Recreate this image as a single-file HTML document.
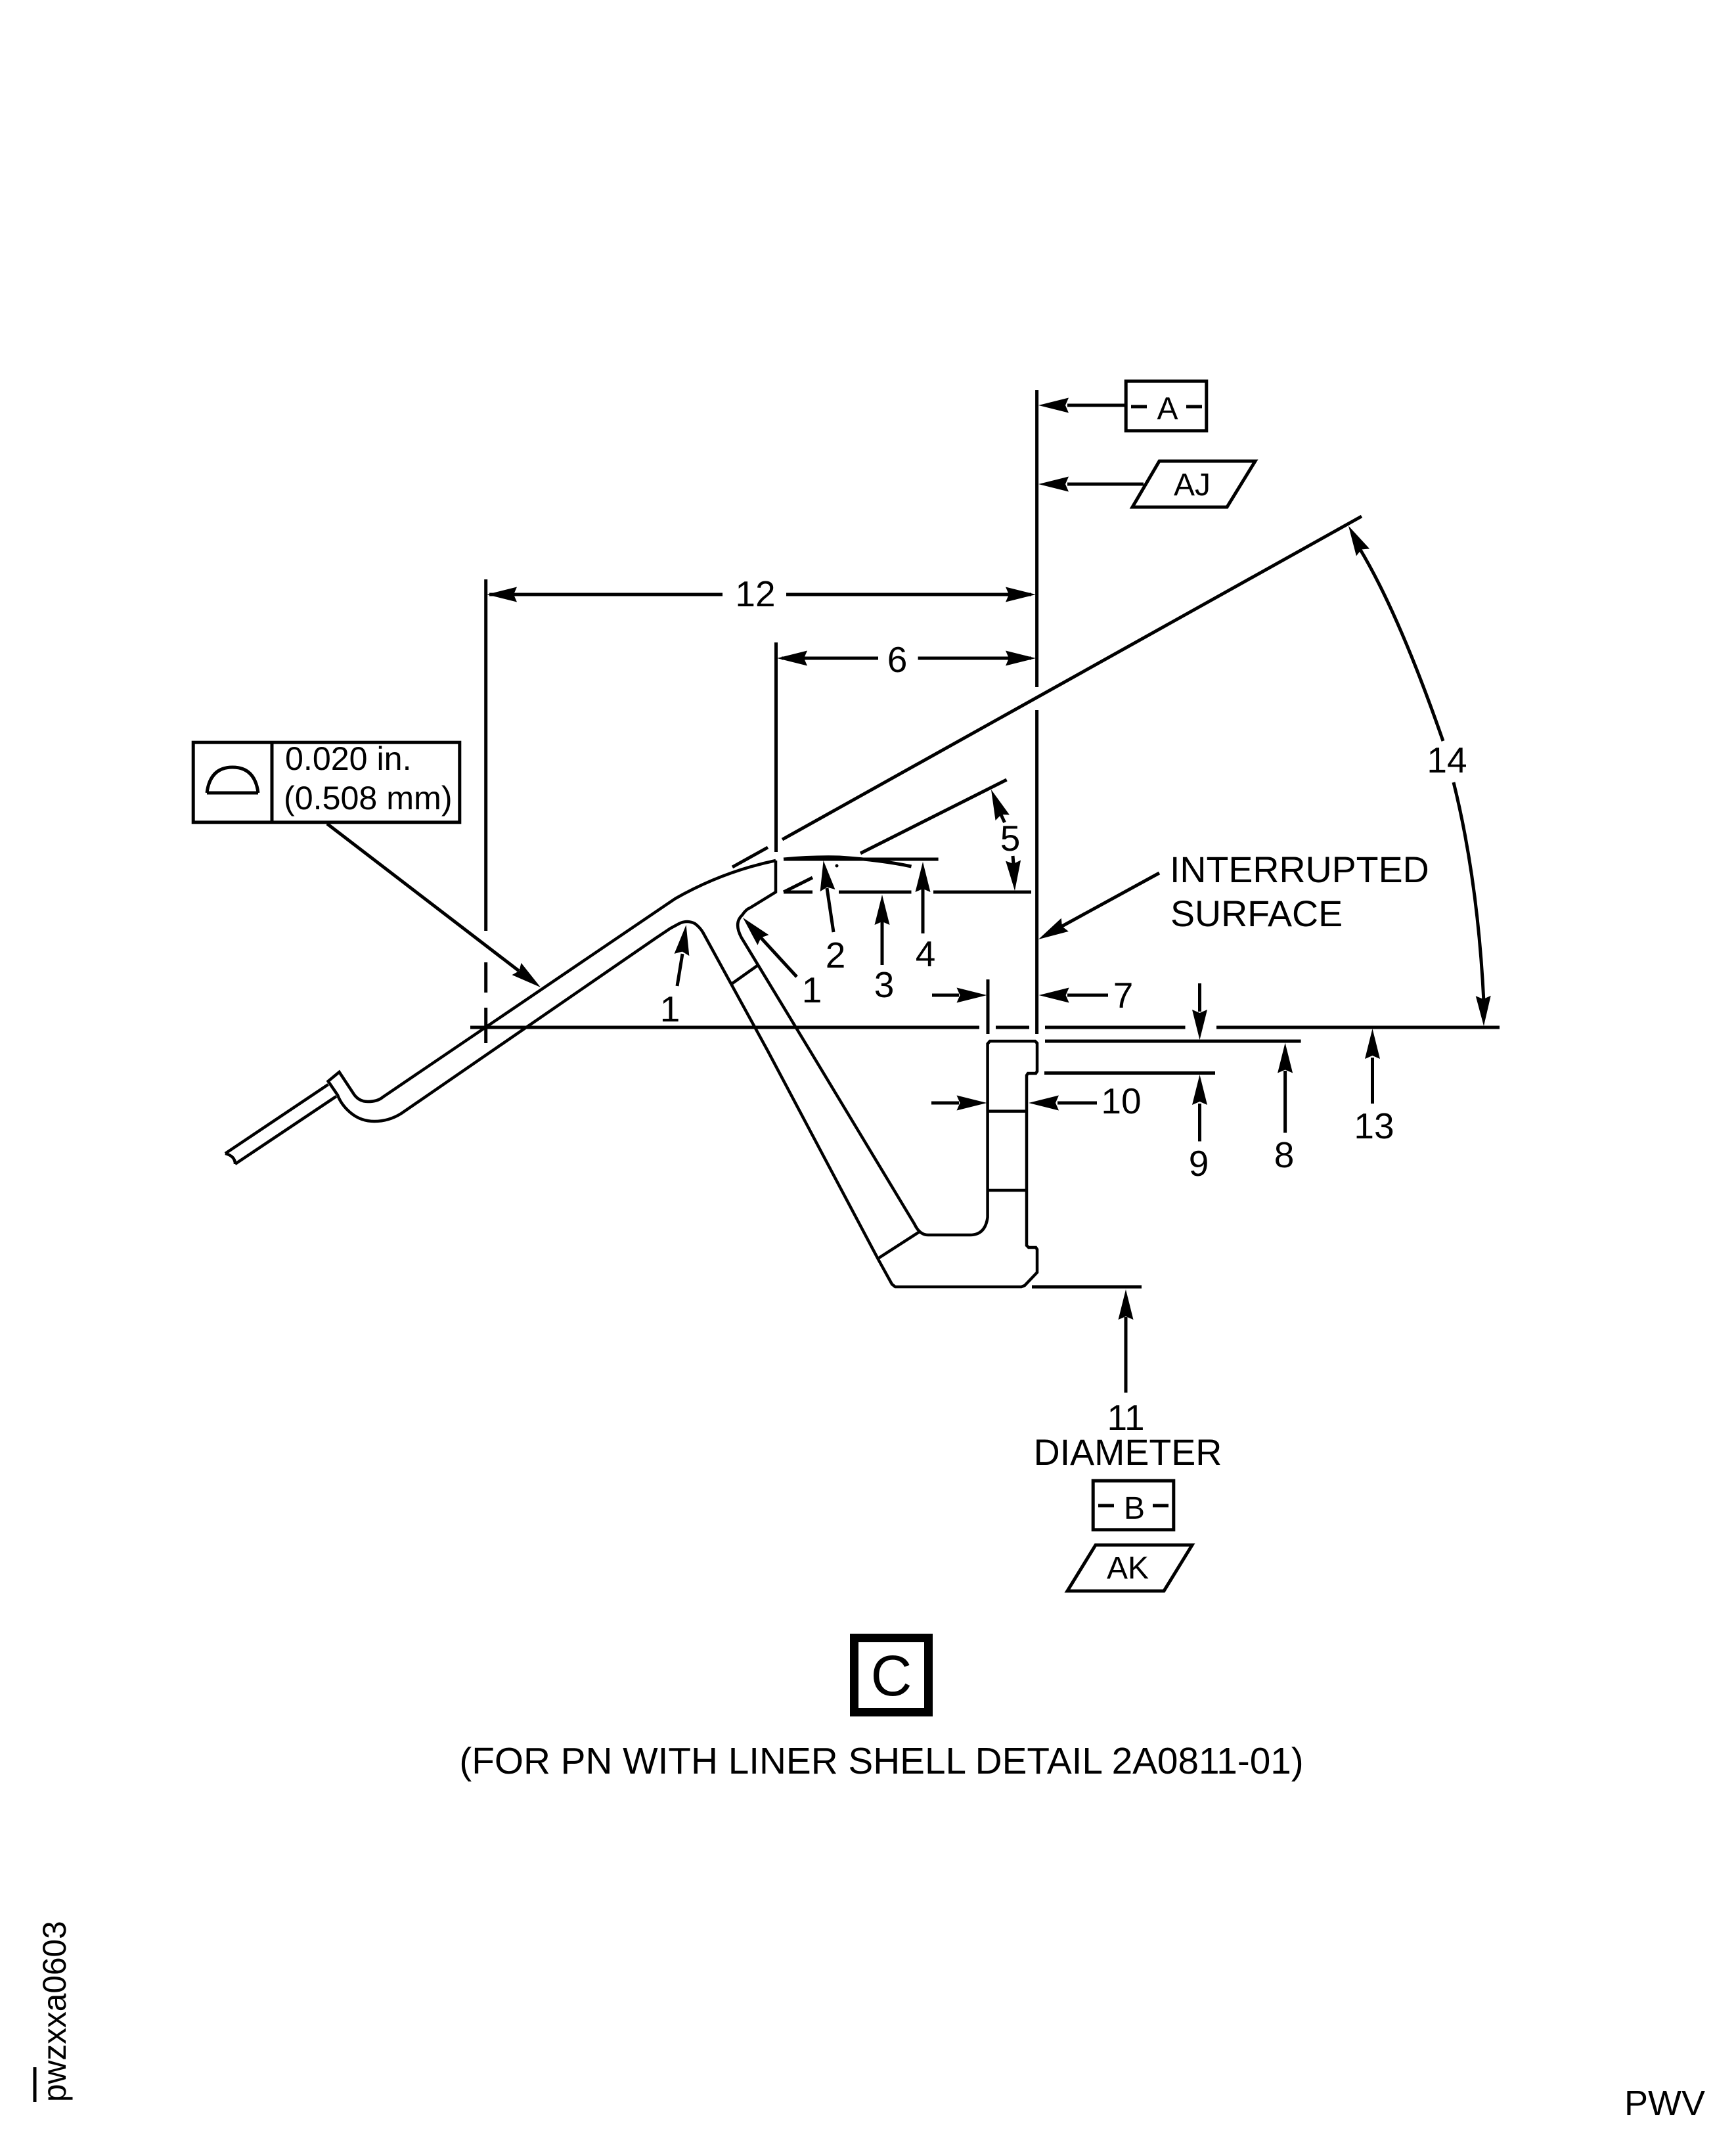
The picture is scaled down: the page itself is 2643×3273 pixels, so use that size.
<!DOCTYPE html>
<html><head><meta charset="utf-8"><style>html,body{margin:0;padding:0;background:#fff}svg{display:block}text{font-family:"Liberation Sans",sans-serif;fill:#000}</style></head>
<body>
<svg xmlns="http://www.w3.org/2000/svg" width="2643" height="3273" viewBox="0 0 2643 3273">
<defs><polygon id="h" points="0,0 -46,-11.5 -41,0 -46,11.5" fill="#000"/></defs>
<rect width="2643" height="3273" fill="#fff"/>
<g fill="none" stroke="#000" stroke-width="5">
<!-- part outline -->
<g stroke-width="4.5">
<path d="M1181 1310 Q1100 1327 1028 1368 L583 1670 Q575 1677 560 1677 Q545 1677 537 1663 L516.5 1632 L499.6 1646 L514 1667 Q520 1683 535 1695 Q550 1707 570 1707 Q592 1707 611 1695 L998.6 1428 L1021 1413 L1034 1406 Q1046 1400 1058 1406 Q1066 1412 1070.5 1420 L1169 1600 L1337 1917 L1358 1955 L1363 1959 L1555 1959 L1560 1957 L1579 1937 L1579 1902 L1577 1899 L1566 1899 L1563 1896 L1563 1637 L1565 1634 L1577 1634 L1579 1631 L1579 1588 L1576 1585 L1507 1585 L1503.6 1589 L1503.6 1853 Q1500 1880 1477 1880 L1413 1880 Q1400 1880 1392 1863 L1233.5 1600 L1128.6 1427 Q1117 1405 1130 1393 Q1136 1384 1142 1382 L1181 1358 L1181 1310"/>
<path d="M343 1756 L499.6 1651 M358 1772 L512 1669 M343 1756 Q358 1760 358 1772"/>
<path d="M1153 1470 L1115 1497 M1400 1875 L1338 1915 M1503.6 1691.6 H1563 M1503.6 1812 H1563"/>
<path d="M315 1207 H393 M315 1207 Q320 1168 354 1168 Q388 1168 393 1207" stroke-width="5"/>
</g>
<!-- extension lines -->
<path d="M1578.6 594 V1046 M1578.6 1081 V1574"/>
<path d="M1504 1491 V1574"/>
<path d="M1181.5 978 V1297"/>
<path d="M739.7 882 V1417 M739.7 1465 V1511 M739.7 1534 V1588"/>
<path d="M2073 786 L1191 1278 M1169 1290 L1115 1320"/>
<path d="M716 1564 H1491 M1516 1564 H1567 M1591 1564 H1804.5 M1852 1564 H2283"/>
<path d="M1591 1585 H1980.6 M1590 1633.5 H1850 M1571 1959 H1738"/>
<path d="M1193 1308 H1428.6 M1193 1308 Q1236 1304 1278 1305 Q1340 1309 1387.5 1319"/>
<path d="M1310 1299 L1532.6 1187 M1193 1358 L1237 1336 M1193 1358 H1237 M1277 1358 H1387.5 M1421 1358 H1570"/>
<!-- dimension lines -->
<path d="M745 905 H1100 M1197 905 H1570"/>
<path d="M1190 1002 H1337 M1397.6 1002 H1570"/>
<path d="M1625 617 H1712 M1625 737 H1741"/>
<path d="M498 1254 L790 1478"/>
<path d="M1765 1329 L1615 1411"/>
<path d="M1031 1501 L1039 1452 M1213 1487 L1157 1426 M1269 1419 L1259 1352 M1343 1469 V1400 M1405 1421 V1350"/>
<path d="M1529.5 1252 L1523 1238 M1542 1303 L1543 1315"/>
<path d="M1419 1515 H1460 M1625 1515 H1687 M1418 1679 H1460 M1610 1679 H1670"/>
<path d="M1826.5 1497 V1540 M1826.5 1680 V1737.5 M1956.6 1630 V1724.5 M2089.5 1610 V1680 M1714 2005 V2120"/>
<path d="M2070 835 Q2130 935 2197 1128 M2213 1191 Q2250 1340 2259 1525"/>
<!-- boxes -->
<rect x="1714.2" y="580.2" width="122.6" height="75.6"/>
<path d="M1722 619 H1746 M1806 619 H1830"/>
<path d="M1765 702 H1911 L1868 772 H1724 Z"/>
<rect x="1664.2" y="2254.2" width="122.6" height="74.6"/>
<path d="M1672 2292 H1696 M1755 2292 H1779"/>
<path d="M1668 2352 H1815 L1772 2422 H1625 Z"/>
<rect x="294.2" y="1130.2" width="405.6" height="121.6"/>
<path d="M414 1130 V1252"/>
<rect x="1300.5" y="2493.5" width="113" height="113" stroke-width="13"/>
<path d="M53 3147 V3200" stroke-width="5"/>
</g>
<circle cx="1274" cy="1318" r="2.5" fill="#000"/>
<!-- arrowheads -->
<use href="#h" transform="translate(741,905) rotate(180)"/>
<use href="#h" transform="translate(1577,905)"/>
<use href="#h" transform="translate(1183,1002) rotate(180)"/>
<use href="#h" transform="translate(1577,1002)"/>
<use href="#h" transform="translate(1581,617) rotate(180)"/>
<use href="#h" transform="translate(1581,737) rotate(180)"/>
<use href="#h" transform="translate(823,1503) rotate(37.5)"/>
<use href="#h" transform="translate(1581,1430) rotate(151.2)"/>
<use href="#h" transform="translate(1044.6,1408) rotate(-81.7)"/>
<use href="#h" transform="translate(1131,1397) rotate(-132.3)"/>
<use href="#h" transform="translate(1253.6,1310) rotate(-98)"/>
<use href="#h" transform="translate(1343,1362) rotate(-90)"/>
<use href="#h" transform="translate(1405,1312) rotate(-90)"/>
<use href="#h" transform="translate(1509,1202) rotate(-112)"/>
<use href="#h" transform="translate(1545,1356) rotate(87)"/>
<use href="#h" transform="translate(1502.5,1515)"/>
<use href="#h" transform="translate(1581.6,1515) rotate(180)"/>
<use href="#h" transform="translate(1502.5,1679)"/>
<use href="#h" transform="translate(1566,1679) rotate(180)"/>
<use href="#h" transform="translate(1826.5,1583) rotate(90)"/>
<use href="#h" transform="translate(1826.5,1636) rotate(-90)"/>
<use href="#h" transform="translate(1956.6,1587.5) rotate(-90)"/>
<use href="#h" transform="translate(2089.5,1566) rotate(-90)"/>
<use href="#h" transform="translate(1714,1963) rotate(-90)"/>
<use href="#h" transform="translate(2053,800.5) rotate(-118.6)"/>
<use href="#h" transform="translate(2259,1562) rotate(89)"/>
<!-- labels -->
<g font-size="55" text-anchor="middle">
<text x="1150" y="923">12</text>
<text x="1366" y="1023">6</text>
<text x="1020" y="1555">1</text>
<text x="1236" y="1526">1</text>
<text x="1272" y="1473">2</text>
<text x="1346" y="1518">3</text>
<text x="1409" y="1471">4</text>
<text x="1538" y="1295">5</text>
<text x="1710" y="1534">7</text>
<text x="1955" y="1777">8</text>
<text x="1825" y="1790">9</text>
<text x="1707" y="1695">10</text>
<text x="1714" y="2177">11</text>
<text x="2092" y="1733">13</text>
<text x="2203" y="1176">14</text>
</g>
<g font-size="55.5">
<text x="1781" y="1343">INTERRUPTED</text>
<text x="1782" y="1410">SURFACE</text>
<text x="1717" y="2230" text-anchor="middle">DIAMETER</text>
</g>
<text x="1342" y="2700" text-anchor="middle" font-size="56.7">(FOR PN WITH LINER SHELL DETAIL 2A0811-01)</text>
<g font-size="48" text-anchor="middle">
<text x="1777.5" y="638">A</text>
<text x="1815" y="754">AJ</text>
<text x="1727" y="2312">B</text>
<text x="1717" y="2403">AK</text>
</g>
<text x="434" y="1172" font-size="50.2">0.020 in.</text>
<text x="432" y="1232" font-size="50.2">(0.508 mm)</text>
<text x="1357" y="2581" font-size="87" text-anchor="middle">C</text>
<text x="2473" y="3220" font-size="54">PWV</text>
<text transform="translate(100,3200) rotate(-90)" font-size="49.6">pwzxxa0603</text>
</svg>
</body></html>
